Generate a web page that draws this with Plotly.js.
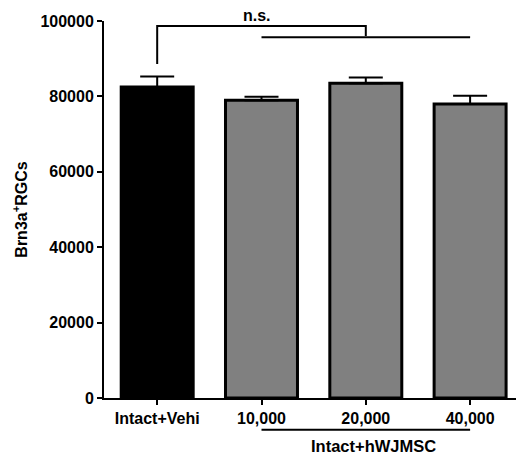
<!DOCTYPE html>
<html>
<head>
<meta charset="utf-8">
<script src="https://cdn.plot.ly/plotly-3.0.1.min.js"></script>
<style>html,body{margin:0;padding:0;background:#fff;}#chart{width:516px;height:455px;}</style>
</head>
<body>
<div id="chart"></div>
<script>
const categories = ['Intact+Vehi', '10,000', '20,000', '40,000'];
const means = [82500, 79000, 83500, 78000];
const sem = [2800, 900, 1500, 2200];
const barColors = ['#000000', '#808080', '#808080', '#808080'];
const yTicks = [0, 20000, 40000, 60000, 80000, 100000];
const groupLabel = 'Intact+hWJMSC';
const sigLabel = 'n.s.';

const FONT = 'Liberation Sans, Arial, sans-serif';

const trace = {
  type: 'bar',
  x: categories,
  y: means,
  marker: {color: barColors, line: {color: '#000', width: 3}},
  error_y: {type: 'data', symmetric: false, array: sem, arrayminus: sem.map(() => 0),
            color: '#000', thickness: 2, width: 17},
  hoverinfo: 'none'
};

const layout = {
  width: 516, height: 455,
  margin: {l: 104, r: 0, t: 21, b: 57},
  paper_bgcolor: '#fff', plot_bgcolor: '#fff',
  showlegend: false,
  bargap: 0.31,
  font: {family: FONT, size: 16, color: '#000'},
  xaxis: {
    type: 'category', range: [-0.51, 3.44],
    showline: true, linewidth: 2, linecolor: '#000',
    ticks: 'outside', ticklen: 5, tickwidth: 2, tickcolor: '#000',
    tickfont: {family: FONT, size: 16, color: '#000', weight: 'bold'},
    showgrid: false, zeroline: false, fixedrange: true
  },
  yaxis: {
    range: [0, 100000], tickvals: yTicks, ticktext: yTicks.map(String),
    showline: true, linewidth: 2, linecolor: '#000',
    ticks: 'outside', ticklen: 5, tickwidth: 2, tickcolor: '#000',
    tickfont: {family: FONT, size: 16, color: '#000', weight: 'bold'},
    showgrid: false, zeroline: false,
    title: {text: '<b>Brn3a<sup>+</sup>RGCs</b>', font: {family: FONT, size: 16, color: '#000'}, standoff: 9},
    fixedrange: true
  },
  shapes: [
    {type: 'path', xref: 'x', yref: 'y', path: 'M 0,88600 L 0,98700 L 2,98700 L 2,96000',
     line: {color: '#000', width: 2}},
    {type: 'line', xref: 'x', yref: 'y', x0: 1, x1: 3, y0: 95700, y1: 95700,
     line: {color: '#000', width: 2}},
    {type: 'line', xref: 'x', yref: 'paper', x0: 1, x1: 3, y0: -0.084, y1: -0.084,
     line: {color: '#000', width: 2}}
  ],
  annotations: [
    {xref: 'x', yref: 'paper', x: 0.96, y: 1.0, yshift: 6, text: '<b>' + sigLabel + '</b>',
     showarrow: false, yanchor: 'middle', font: {family: FONT, size: 16, color: '#000'}},
    {xref: 'x', yref: 'paper', x: 2.07, y: -0.128, text: '<b>' + groupLabel + '</b>',
     showarrow: false, yanchor: 'middle', font: {family: FONT, size: 16.5, color: '#000'}}
  ]
};

Plotly.newPlot('chart', [trace], layout, {displayModeBar: false, staticPlot: true});
</script>
</body>
</html>
